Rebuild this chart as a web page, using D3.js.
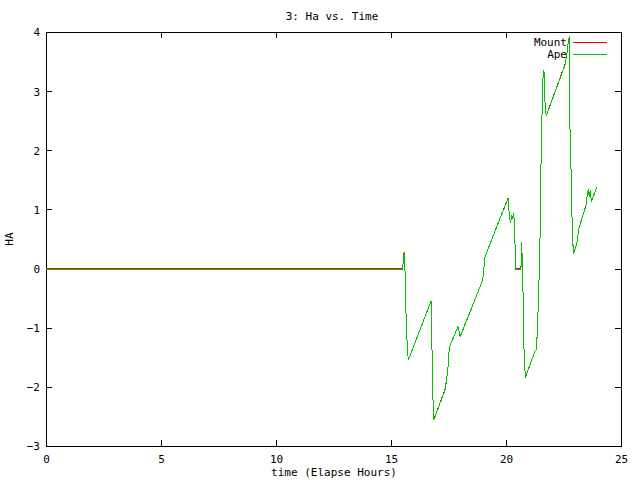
<!DOCTYPE html>
<html>
<head>
<meta charset="utf-8">
<script src="https://cdn.jsdelivr.net/npm/d3@7"></script>
<style>
  html, body { margin: 0; padding: 0; background: #fff; }
  svg text { font-family: "DejaVu Sans Mono", "Liberation Mono", monospace; font-size: 11px; fill: #000; }
</style>
</head>
<body>
<svg id="chart" width="640" height="480"></svg>
<script>
// ---- data ----
const titleText = "3: Ha vs. Time";
const xLabel = "time (Elapse Hours)";
const yLabel = "HA";
const seriesNames = ["Mount", "Ape"];
const xTicks = [0, 5, 10, 15, 20, 25];
const yTicks = [-3, -2, -1, 0, 1, 2, 3, 4];

const time = [0, 15.48, 15.52, 15.57, 15.6, 15.64, 15.7, 15.75, 16.74, 16.77, 16.81, 16.86,
  17.36, 17.43, 17.5, 17.52, 17.55, 17.91, 18.01, 18.99, 19.09, 19.71, 20.1, 20.14, 20.19,
  20.25, 20.29, 20.33, 20.38, 20.4, 20.43, 20.65, 20.68, 20.73, 20.77, 20.84, 21.27, 21.33,
  21.36, 21.42, 21.48, 21.53, 21.6, 21.65, 21.7, 21.75, 22.57, 22.64, 22.7, 22.75, 22.78,
  22.84, 22.88, 22.93, 23.04, 23.1, 23.17, 23.48, 23.52, 23.58, 23.62, 23.67, 23.71, 23.94];

const ape = [-0.015, -0.015, 0.06, 0.26, 0.13, -0.62, -1.24, -1.55, -0.55, -1.04, -2.05, -2.56,
  -2.04, -1.83, -1.59, -1.42, -1.32, -0.98, -1.15, -0.19, 0.2, 0.82, 1.19, 0.91, 0.78,
  0.88, 0.85, 0.94, 0.71, 0.24, -0.015, -0.015, 0.45, -0.13, -1.26, -1.84, -1.39, -1.37,
  -1.04, -0.45, 0.54, 1.98, 3.19, 3.36, 2.77, 2.58, 3.45, 3.61, 3.81, 3.93, 2.4,
  1.47, 0.66, 0.25, 0.37, 0.47, 0.68, 1.07, 1.21, 1.34, 1.21, 1.33, 1.13, 1.37];

const mount = [0.005, 0.005, 0.07, 0.28, 0.13, -0.62, -1.24, -1.55, -0.55, -1.04, -2.05, -2.56,
  -2.03, -1.83, -1.59, -1.42, -1.32, -0.98, -1.15, -0.19, 0.2, 0.82, 1.2, 0.91, 0.78,
  0.88, 0.85, 0.94, 0.71, 0.24, 0.005, 0.005, 0.45, -0.13, -1.26, -1.84, -1.39, -1.37,
  -1.04, -0.45, 0.54, 1.98, 3.19, 3.36, 2.77, 2.58, 3.46, 3.61, 3.81, 3.93, 2.4,
  1.47, 0.66, 0.26, 0.37, 0.47, 0.68, 1.07, 1.21, 1.34, 1.21, 1.33, 1.13, 1.37];

const colors = ["#ff0000", "#00c000"];

// ---- chart ----
const svg = d3.select("#chart");
const L = 46, R = 621, T = 32, B = 446;
const x = d3.scaleLinear().domain([0, 25]).range([L, R]);
const y = d3.scaleLinear().domain([-3, 4]).range([B, T]);

svg.append("rect").attr("width", 640).attr("height", 480).attr("fill", "#fff");

const tl = 6;
const gx = svg.append("g").attr("transform", `translate(0,${B})`)
  .call(d3.axisBottom(x).tickValues(xTicks).tickSizeInner(-tl).tickSizeOuter(0).tickPadding(9).tickFormat(d3.format("d")));
const gxt = svg.append("g").attr("transform", `translate(0,${T})`)
  .call(d3.axisTop(x).tickValues(xTicks).tickSizeInner(-tl).tickSizeOuter(0).tickFormat(""));
const gy = svg.append("g").attr("transform", `translate(${L},0)`)
  .call(d3.axisLeft(y).tickValues(yTicks).tickSizeInner(-tl).tickSizeOuter(0).tickPadding(6).tickFormat(d3.format("d")));
const gyr = svg.append("g").attr("transform", `translate(${R},0)`)
  .call(d3.axisRight(y).tickValues(yTicks).tickSizeInner(-tl).tickSizeOuter(0).tickFormat(""));

[gx, gxt, gy, gyr].forEach(g => {
  g.select(".domain").remove();
  g.selectAll("line").attr("stroke", "#000").attr("shape-rendering", "crispEdges");
  g.selectAll("text").attr("font-family", "DejaVu Sans Mono").attr("font-size", 11).attr("fill", "#000");
});
gy.selectAll("text").attr("dy", "0.35em");

svg.append("rect").attr("x", L).attr("y", T).attr("width", R - L).attr("height", B - T)
  .attr("fill", "none").attr("stroke", "#000").attr("shape-rendering", "crispEdges");

const line = d3.line().x(d => x(d[0])).y(d => y(d[1]));
[mount, ape].forEach((vals, i) => {
  const pts = time.map((t, k) => [t, vals[k]]);
  svg.append("path").datum(pts).attr("d", line)
    .attr("fill", "none").attr("stroke", colors[i]).attr("stroke-width", 1)
    .attr("shape-rendering", "crispEdges");
});

// legend
seriesNames.forEach((name, i) => {
  const ly = 42 + i * 12;
  svg.append("text").attr("x", 567).attr("y", ly).attr("dy", "0.35em")
    .attr("font-size", 10).attr("text-anchor", "end").text(name);
  svg.append("line").attr("x1", 573).attr("x2", 607).attr("y1", ly + 0.5).attr("y2", ly + 0.5)
    .attr("stroke", colors[i]).attr("stroke-width", 1).attr("shape-rendering", "crispEdges");
});

svg.append("text").attr("x", 332).attr("y", 20).attr("text-anchor", "middle").text(titleText);
svg.append("text").attr("x", 334).attr("y", 476).attr("text-anchor", "middle").text(xLabel);
svg.append("text").attr("transform", "translate(13,239) rotate(-90)").attr("text-anchor", "middle").text(yLabel);
</script>
</body>
</html>
